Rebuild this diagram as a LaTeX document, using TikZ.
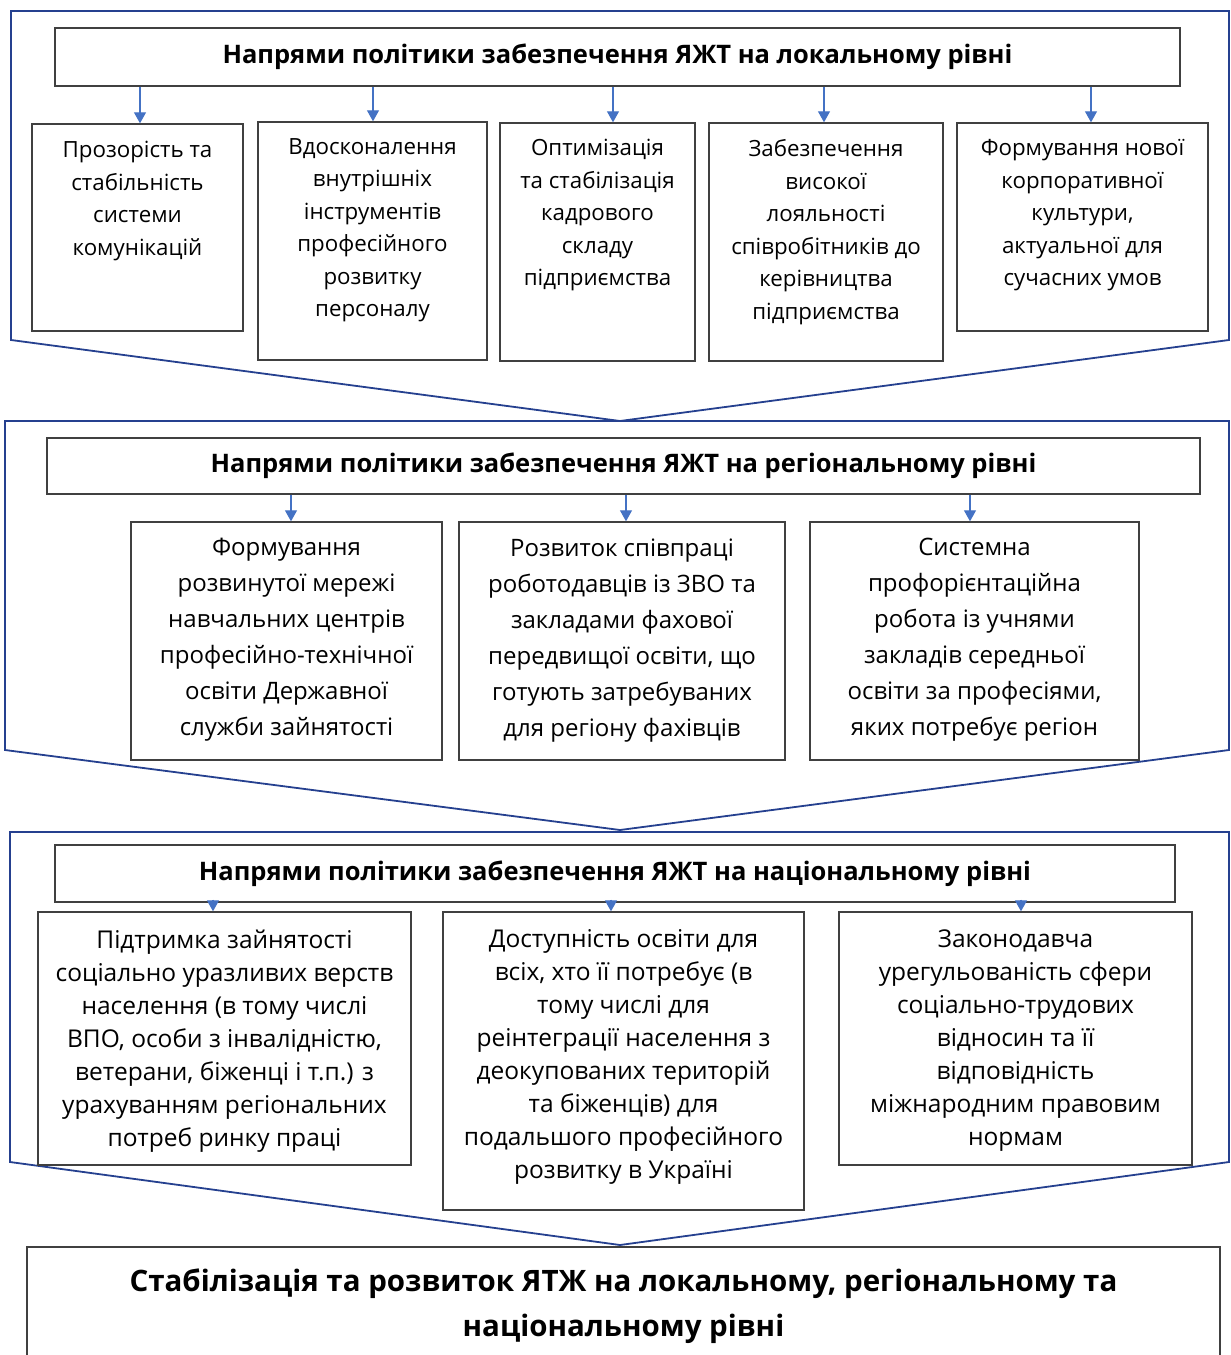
\documentclass[tikz,border=0pt]{standalone}
\usepackage{fontspec}
\setmainfont{Open Sans}
\usetikzlibrary{arrows.meta,calc}
\definecolor{FrameBlue}{HTML}{25408F}
\definecolor{ArrowBlue}{HTML}{4472C4}
\definecolor{BoxGray}{HTML}{404040}

\begin{document}
\begin{tikzpicture}[
	x=1pt, y=-1pt, % one unit = one pixel of the layout
	% Style for the outer chevron frames
	frame/.style={
		draw=FrameBlue,
		line width=1.8pt,
		line join=miter
	},
	% Style for the heading bars
	head/.style={
		draw=BoxGray,
		line width=1.4pt,
		inner sep=0pt,
		font=\fontsize{25.5}{30}\selectfont\bfseries
	},
	% Style for the item boxes
	cell/.style={
		draw=BoxGray,
		line width=1.4pt,
		inner sep=0pt
	},
	% Style for the text inside the item boxes
	celltext/.style={
		anchor=north,
		align=center,
		inner sep=0pt
	},
	% Style for the small blue arrows
	arr/.style={
		draw=ArrowBlue,
		line width=1.2pt,
		-{Triangle[width=12pt,length=11pt]}
	}
	]
	\useasboundingbox (0,0) rectangle (1231,1355);
	
	% 1. Chevron frames of the three levels
	\draw[frame] (11,340) -- (11,11) -- (1229,11) -- (1229,340) -- (620,421) -- cycle;
	\draw[frame] (5,750) -- (5,421) -- (1229,421) -- (1229,750) -- (620,830) -- cycle;
	\draw[frame] (10,1162) -- (10,832) -- (1229,832) -- (1229,1162) -- (620,1245) -- cycle;
	
	% 2. Local level
	\node[head, minimum width=1125, minimum height=58] (h1) at (617.5,57)
		{Напрями політики забезпечення ЯЖТ на локальному рівні};
	
	\node[cell, minimum width=211, minimum height=207] (b1) at (137.5,227.5) {};
	\node[cell, minimum width=229, minimum height=238] (b2) at (372.5,241) {};
	\node[cell, minimum width=195, minimum height=238] (b3) at (597.5,242) {};
	\node[cell, minimum width=234, minimum height=238] (b4) at (826,242) {};
	\node[cell, minimum width=251, minimum height=208] (b5) at (1082.5,227) {};
	
	\begin{scope}[every node/.append style={font=\fontsize{22.3}{32.5}\selectfont}]
		\node[celltext] (t1) at ([yshift=-18]b1.north) {Прозорість та\\стабільність\\системи\\комунікацій};
		\node[celltext] (t2) at ([yshift=-17]b2.north) {Вдосконалення\\внутрішніх\\інструментів\\професійного\\розвитку\\персоналу};
		\node[celltext] (t3) at ([yshift=-17]b3.north) {Оптимізація\\та стабілізація\\кадрового\\складу\\підприємства};
		\node[celltext] (t4) at ([yshift=-17]b4.north) {Забезпечення\\високої\\лояльності\\співробітників до\\керівництва\\підприємства};
		\node[celltext] (t5) at ([yshift=-17]b5.north) {Формування нової\\корпоративної\\культури,\\актуальної для\\сучасних умов};
	\end{scope}
	
	\foreach \b/\dx in {b1/2.5, b2/0.5, b3/15.5, b4/-2, b5/8.5}
		\draw[arr] ([xshift=\dx]\b.north |- h1.south) -- ([xshift=\dx]\b.north);
	
	% 3. Regional level
	\node[head, minimum width=1153, minimum height=56] (h2) at (623.5,466)
		{Напрями політики забезпечення ЯЖТ на регіональному рівні};
	
	\node[cell, minimum width=311, minimum height=238] (c1) at (286.5,641) {};
	\node[cell, minimum width=326, minimum height=238] (c2) at (622,641) {};
	\node[cell, minimum width=329, minimum height=238] (c3) at (974.5,641) {};
	
	\begin{scope}[every node/.append style={font=\fontsize{24}{36}\selectfont}]
		\node[celltext] (u1) at ([yshift=-17]c1.north) {Формування\\розвинутої мережі\\навчальних центрів\\професійно-технічної\\освіти Державної\\служби зайнятості};
		\node[celltext] (u2) at ([yshift=-17]c2.north) {Розвиток співпраці\\роботодавців із ЗВО та\\закладами фахової\\передвищої освіти, що\\готують затребуваних\\для регіону фахівців};
		\node[celltext] (u3) at ([yshift=-17]c3.north) {Системна\\профорієнтаційна\\робота із учнями\\закладів середньої\\освіти за професіями,\\яких потребує регіон};
	\end{scope}
	
	\foreach \c/\dx in {c1/4.5, c2/4, c3/-4.5}
		\draw[arr] ([xshift=\dx]\c.north |- h2.south) -- ([xshift=\dx]\c.north);
	
	% 4. National level
	\node[head, minimum width=1120, minimum height=57] (h3) at (615,873.5)
		{Напрями політики забезпечення ЯЖТ на національному рівні};
	
	\node[cell, minimum width=373, minimum height=253] (d1) at (224.5,1038.5) {};
	\node[cell, minimum width=361, minimum height=298] (d2) at (623.5,1061) {};
	\node[cell, minimum width=353, minimum height=253] (d3) at (1015.5,1038.5) {};
	
	\begin{scope}[every node/.append style={font=\fontsize{24.5}{33}\selectfont}]
		\node[celltext] (v1) at ([yshift=-18]d1.north) {Підтримка зайнятості\\соціально уразливих верств\\населення (в тому числі\\ВПО, особи з інвалідністю,\\ветерани, біженці і т.п.) з\\урахуванням регіональних\\потреб ринку праці};
		\node[celltext] (v2) at ([yshift=-18]d2.north) {Доступність освіти для\\всіх, хто її потребує (в\\тому числі для\\реінтеграції населення з\\деокупованих територій\\та біженців) для\\подальшого професійного\\розвитку в Україні};
		\node[celltext] (v3) at ([yshift=-18]d3.north) {Законодавча\\урегульованість сфери\\соціально-трудових\\відносин та її\\відповідність\\міжнародним правовим\\нормам};
	\end{scope}
	
	\foreach \d/\dx in {d1/-11.5, d2/-12.5, d3/5.5}
		\draw[arr] ($(\d.north |- h3.south)+(\dx,-3)$) -- ($(\d.north)+(\dx,0)$);
	
	% 5. Result box
	\node[cell, minimum width=1193, minimum height=120] (res) at (623.5,1307) {};
	\node[celltext, font=\fontsize{29.5}{45}\selectfont\bfseries] (rt) at ([yshift=-22]res.north)
		{Стабілізація та розвиток ЯТЖ на локальному, регіональному та\\національному рівні};
	
\end{tikzpicture}
\end{document}
